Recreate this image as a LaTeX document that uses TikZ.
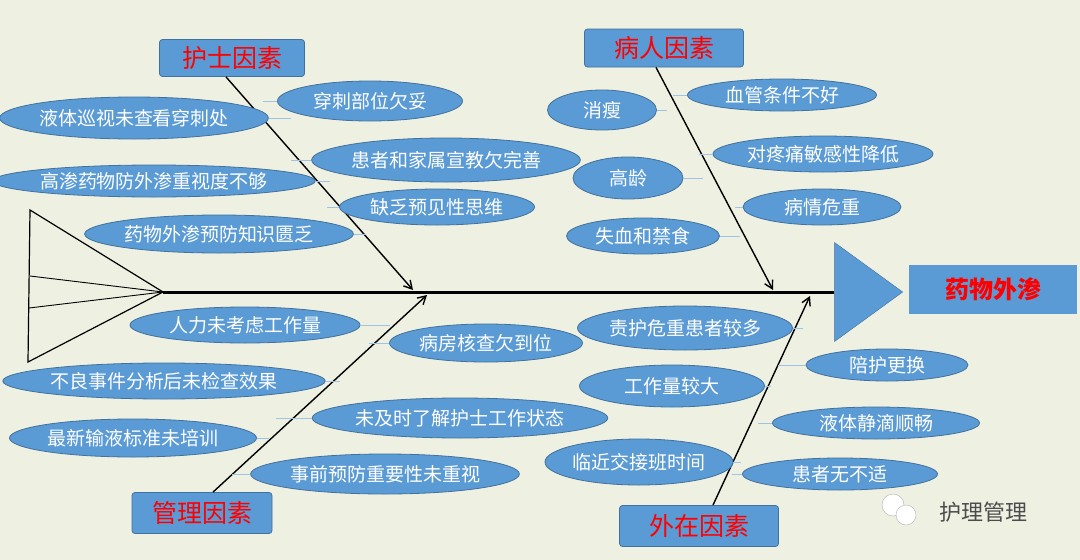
\documentclass[tikz,border=0pt]{standalone}
\usepackage{fontspec}
\setmainfont{Noto Sans CJK SC}
\usetikzlibrary{shapes.geometric,arrows.meta}
\definecolor{bg}{HTML}{EEF0E2}
\definecolor{fill}{HTML}{5B9BD5}
\definecolor{edge}{HTML}{41719C}
\definecolor{stub}{HTML}{9DC3E6}
\tikzset{
 el/.style={ellipse,fill=fill,draw=edge,line width=0.8pt,inner sep=0pt,text=white,font=\fontsize{19}{20}\selectfont},
 cat/.style={rectangle,rounded corners=3pt,fill=fill,draw=edge,line width=0.8pt,text=red,font=\fontsize{25}{27}\selectfont,inner sep=0pt},
 bone/.style={line width=1.4pt,-{Straight Barb[length=8pt,width=9pt]}},
 st/.style={stub,line width=0.8pt}
}
\newcommand{\E}[6]{\node[el,minimum width=#3pt,minimum height=#4pt] (#1) at (#2) {#5};}
\begin{document}
\begin{tikzpicture}[x=1pt,y=-1pt]
\fill[bg] (0,0) rectangle (1080,560);
\useasboundingbox (0,0) rectangle (1080,560);
% tail
\coordinate (t0) at (163,292);
\coordinate (t1) at (30,210);
\coordinate (t2) at (28,362);
\coordinate (t3) at (30,276);
\coordinate (t4) at (29,308);
\draw[line width=1.2pt] (t1) -- (t2) -- (t0) -- cycle;
\draw[line width=0.9pt] (t0) -- (t3) (t0) -- (t4);
% head
\node[isosceles triangle,isosceles triangle apex angle=72,fill=fill,draw=edge,minimum height=68pt,inner sep=0pt,anchor=apex] (head) at (903,292) {};
\draw[line width=3pt] (t0) -- (head.west);
\node[rectangle,fill=fill,minimum width=168pt,minimum height=49pt,text=red,font=\fontsize{24}{26}\selectfont\bfseries] (eff) at (993,289) {药物外渗};
% categories
\node[cat,minimum width=145pt,minimum height=37pt] (nurse) at (232,58) {护士因素};
\node[cat,minimum width=159pt,minimum height=38pt] (pat) at (664,48) {病人因素};
\node[cat,minimum width=140pt,minimum height=41pt] (mgt) at (202,513) {管理因素};
\node[cat,minimum width=159pt,minimum height=41pt] (ext) at (699,526) {外在因素};
\coordinate (a1) at (413,290);
\coordinate (a2) at (773,290);
\coordinate (a3) at (427,295);
\coordinate (a4) at (810,296);
\draw[bone] ([xshift=-6pt]nurse.south) -- (a1);
\draw[bone] ([xshift=-8pt]pat.south) -- (a2);
\draw[bone] ([xshift=11pt]mgt.north) -- (a3);
\draw[bone] ([xshift=14pt]ext.north) -- (a4);
% nurse
\E{n1}{134,118}{262}{42}{液体巡视未查看穿刺处}{}
\E{n2}{370,101}{185}{40}{穿刺部位欠妥}{}
\E{n3}{446,160}{257}{44}{患者和家属宣教欠完善}{}
\E{n4}{154,181}{302}{32}{高渗药物防外渗重视度不够}{}
\E{n5}{437,207}{195}{36}{缺乏预见性思维}{}
\E{n6}{219,234}{262}{38}{药物外渗预防知识匮乏}{}
\draw[st] (n1.east) -- +(22,0) (n2.west) -- +(-14,0) (n3.west) -- +(-20,0) (n4.east) -- +(14,0) (n5.west) -- +(-12,0) (n6.east) -- +(12,0);
% patient
\E{p1}{602,110}{109}{40}{消瘦}{}
\E{p2}{782,95}{189}{32}{血管条件不好}{}
\E{p3}{823,154}{220}{36}{对疼痛敏感性降低}{}
\E{p4}{628,178}{110}{42}{高龄}{}
\E{p5}{822,207}{158}{36}{病情危重}{}
\E{p6}{643,236}{153}{36}{失血和禁食}{}
\draw[st] (p1.east) -- +(10,0) (p2.west) -- +(-14,0) (p3.west) -- +(-14,0) (p4.east) -- +(20,0) (p5.west) -- +(-8,0) (p6.east) -- +(20,0);
% management
\E{m1}{245,325}{230}{36}{人力未考虑工作量}{}
\E{m2}{486,343}{193}{38}{病房核查欠到位}{}
\E{m3}{164,381}{308}{36}{不良事件分析后未检查效果}{}
\E{m4}{460,418}{274}{40}{未及时了解护士工作状态}{}
\E{m5}{133,438}{247}{38}{最新输液标准未培训}{}
\E{m6}{385,474}{240}{40}{事前预防重要性未重视}{}
\draw[st] (m1.east) -- +(30,0) (m2.west) -- +(-20,0) (m3.east) -- +(14,0) (m4.west) -- +(-36,0) (m5.east) -- +(12,0) (m6.west) -- +(-18,0);
% external
\E{e1}{685,328}{205}{44}{责护危重患者较多}{}
\E{e2}{887,365}{162}{32}{陪护更换}{}
\E{e3}{672,386}{185}{42}{工作量较大}{}
\E{e4}{876,423}{207}{32}{液体静滴顺畅}{}
\E{e5}{639,462}{182}{46}{临近交接班时间}{}
\E{e6}{840,474}{195}{32}{患者无不适}{}
\draw[st] (e1.east) -- +(10,0) (e2.west) -- +(-28,0) (e3.east) -- +(6,0) (e4.west) -- +(-14,0) (e5.east) -- +(8,0) (e6.west) -- +(-10,0);
% watermark
\node[circle,fill=white,draw=gray!60,minimum size=22pt,inner sep=0pt] (w1) at (893,505) {};
\node[circle,fill=white,draw=gray!60,minimum size=20pt,inner sep=0pt] (w2) at (906,515) {};
\node[text=gray!60!black,font=\fontsize{22}{24}\selectfont,anchor=west] (wm) at (936,512) {护理管理};
\end{tikzpicture}
\end{document}
